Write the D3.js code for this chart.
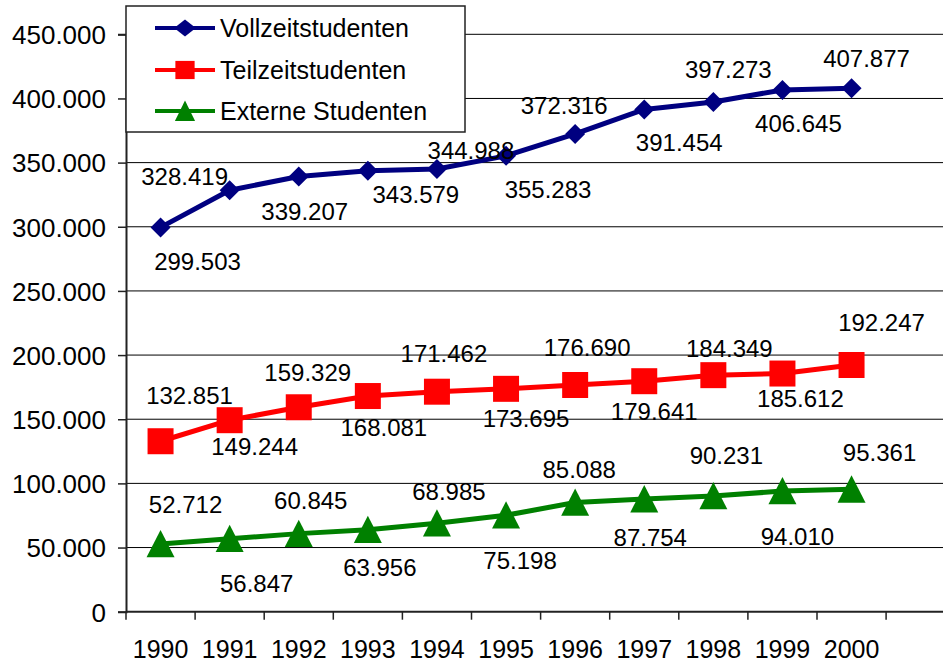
<!DOCTYPE html>
<html><head><meta charset="utf-8">
<script src="https://cdn.jsdelivr.net/npm/d3@7"></script>
<style>html,body{margin:0;padding:0;background:#fff}svg{display:block;font-family:"Liberation Sans",Arial,sans-serif}</style>
</head><body>
<svg id="c" width="943" height="663"></svg>
<script>
const years = ["1990","1991","1992","1993","1994","1995","1996","1997","1998","1999","2000"];
const vollzeit = [299503,328419,339207,343579,344988,355283,372316,391454,397273,406645,407877];
const teilzeit = [132851,149244,159329,168081,171462,173695,176690,179641,184349,185612,192247];
const extern   = [52712,56847,60845,63956,68985,75198,85088,87754,90231,94010,95361];
const seriesNames = ["Vollzeitstudenten","Teilzeitstudenten","Externe Studenten"];
const yTicks = [0,50000,100000,150000,200000,250000,300000,350000,400000,450000];

// label placement offsets (layout only)
const labelOffsets = [
  [[37,34],[-45,-14],[6,35],[48,24],[34,-19],[42,34],[-11,-29],[35,33],[15,-33],[16,33],[15,-30]],
  [[29,-46],[25,26],[9,-35],[16,31],[7,-38],[20,30],[12,-38],[10,30],[16,-27],[18,25],[30,-43]],
  [[25,-40],[27,45],[12,-33],[12,38],[12,-32],[14,45],[4,-33],[6,38],[13,-41],[15,45],[28,-37]]
];

(function () {
const svg = d3.select("#c");
const W = 943;
const pLeft = 126, step = 69.1, pTop = 34.3, pBottom = 611.7;

const x = d3.scaleBand().domain(years.concat(["__pad"])).range([pLeft, pLeft + step * 12]).padding(0);
const y = d3.scaleLinear().domain([0, 450000]).range([pBottom, pTop]);
const de = d3.formatLocale({decimal: ",", thousands: ".", grouping: [3], currency: ["", "€"]});
const fmt = de.format(",.0f");

const colors = ["#000080", "#FF0000", "#008000"];
const data = [vollzeit, teilzeit, extern];

// marker shapes
function marker(s, kw, kh) {
  if (s === 0) { const w = 10 * kw, h = 10 * kh; return `M0,${-h}L${w},0L0,${h}L${-w},0Z`; }
  if (s === 1) { const a = 13 * kw, b = 13 * kh; return `M${-a},${-b}H${a}V${b}H${-a}Z`; }
  const w = 14 * kw, h = 14 * kh; return `M0,${-h}L${w},${h * 0.95}L${-w},${h * 0.95}Z`;
}

// gridlines
svg.append("g").selectAll("line").data(yTicks.filter(d => d > 0)).join("line")
  .attr("x1", pLeft).attr("x2", W).attr("y1", d => y(d)).attr("y2", d => y(d))
  .attr("stroke", "#000").attr("stroke-width", 1);

// y axis
const yAxis = svg.append("g").attr("transform", `translate(${pLeft},0)`)
  .call(d3.axisLeft(y).tickValues(yTicks).tickFormat(d => fmt(d)).tickSize(8).tickPadding(12));
yAxis.select(".domain").attr("stroke", "#222").attr("stroke-width", 2);
yAxis.selectAll(".tick line").attr("stroke", "#222").attr("stroke-width", 1.5);
yAxis.selectAll("text").attr("font-size", 26).attr("fill", "#000")
  .attr("font-family", "'Liberation Sans',Arial,sans-serif").attr("dy", "0.36em");

// x axis
const gx = svg.append("g");
gx.append("line").attr("x1", pLeft).attr("x2", W).attr("y1", pBottom).attr("y2", pBottom)
  .attr("stroke", "#222").attr("stroke-width", 2);
const bounds = d3.range(13).map(i => pLeft + i * x.step());
gx.selectAll("line.t").data(bounds).join("line").attr("class", "t")
  .attr("x1", d => d).attr("x2", d => d).attr("y1", pBottom).attr("y2", pBottom + 8)
  .attr("stroke", "#222").attr("stroke-width", 1.5);
gx.selectAll("text").data(years).join("text")
  .attr("x", d => x(d) + x.bandwidth() / 2).attr("y", 658)
  .attr("text-anchor", "middle").attr("font-size", 25).attr("fill", "#000").text(d => d);

// lines
const line = d3.line().x((d, i) => x(years[i]) + x.bandwidth() / 2).y(d => y(d));

data.forEach((vals, s) => {
  const g = svg.append("g");
  g.append("path").datum(vals).attr("d", line).attr("fill", "none")
    .attr("stroke", colors[s]).attr("stroke-width", 5).attr("stroke-linejoin", "round");
  g.selectAll("path.m").data(vals).join("path").attr("class", "m")
    .attr("transform", (d, i) => `translate(${x(years[i]) + x.bandwidth() / 2},${y(d)})`)
    .attr("d", marker(s, 1, 1)).attr("fill", colors[s]);
  g.selectAll("text").data(vals).join("text")
    .attr("x", (d, i) => x(years[i]) + x.bandwidth() / 2 + labelOffsets[s][i][0])
    .attr("y", (d, i) => y(d) + labelOffsets[s][i][1] + 8.6)
    .attr("text-anchor", "middle").attr("font-size", 24).attr("fill", "#000")
    .text(d => fmt(d));
});

// legend
const lg = svg.append("g");
lg.append("rect").attr("x", 126).attr("y", 6).attr("width", 339).attr("height", 126)
  .attr("fill", "#fff").attr("stroke", "#222").attr("stroke-width", 1.5);
const rowsY = [28, 70, 111];
const legScale = [[1.08, 0.85], [0.74, 0.7], [0.72, 0.75]];
seriesNames.forEach((n, s) => {
  lg.append("line").attr("x1", 155).attr("x2", 215).attr("y1", rowsY[s]).attr("y2", rowsY[s])
    .attr("stroke", colors[s]).attr("stroke-width", 4);
  lg.append("path").attr("transform", `translate(185,${rowsY[s]})`)
    .attr("d", marker(s, legScale[s][0], legScale[s][1])).attr("fill", colors[s]);
  lg.append("text").attr("x", 220).attr("y", rowsY[s] + 9).attr("font-size", 25)
    .attr("fill", "#000").text(n);
});
})();
</script>
</body></html>
